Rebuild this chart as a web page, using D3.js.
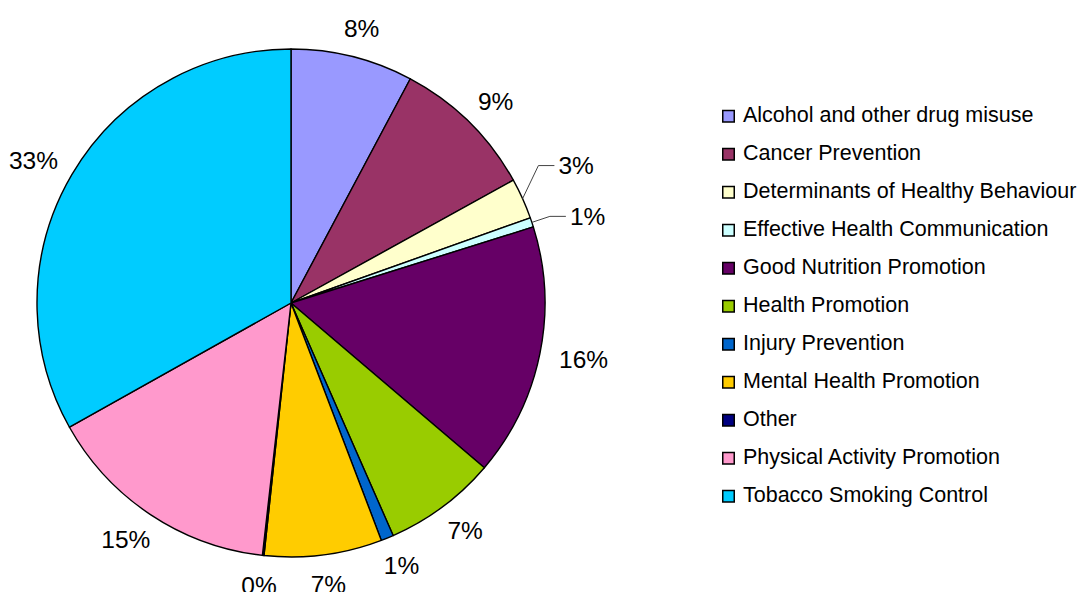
<!DOCTYPE html>
<html>
<head>
<meta charset="utf-8">
<script src="https://cdn.jsdelivr.net/npm/d3@7"></script>
<style>
  html, body { margin: 0; padding: 0; background: #fff; }
  svg { display: block; }
  text { font-family: "Liberation Sans", Arial, sans-serif; fill: #000; }
</style>
</head>
<body>
<svg id="chart" width="1077" height="592"></svg>
<script>
const categories = [
  "Alcohol and other drug misuse",
  "Cancer Prevention",
  "Determinants of Healthy Behaviour",
  "Effective Health Communication",
  "Good Nutrition Promotion",
  "Health Promotion",
  "Injury Prevention",
  "Mental Health Promotion",
  "Other",
  "Physical Activity Promotion",
  "Tobacco Smoking Control"
];
const values = [7.8, 9.2, 2.6, 0.6, 16.1, 7.2, 0.8, 7.5, 0.1, 15.1, 33.2];
const colors = ["#9999FF", "#993366", "#FFFFCC", "#CCFFFF", "#660066", "#99CC00",
                "#0066CC", "#FFCC00", "#000080", "#FF99CC", "#00CCFF"];
// slices whose labels use leader lines: [elbow radius, elbow angle shift (deg)]
const leaderSlices = { "Determinants of Healthy Behaviour": [283, -4.8], "Effective Health Communication": [273, 0] };

const svg = d3.select("#chart");
const cx = 291, cy = 303, R = 254;
const total = d3.sum(values);
const data = categories.map((c, i) => ({ name: c, value: values[i], color: colors[i] }));

const pie = d3.pie().value(d => d.value).sort(null);
const arcs = pie(data);
const arc = d3.arc().innerRadius(0).outerRadius(R);

const g = svg.append("g").attr("transform", `translate(${cx},${cy})`);
g.selectAll("path.slice").data(arcs).join("path")
  .attr("class", "slice")
  .attr("d", arc)
  .attr("fill", d => d.data.color)
  .attr("stroke", "#000")
  .attr("stroke-width", 1.4)
  .attr("stroke-linejoin", "round");

const fmt = v => Math.round(v / total * 100) + "%";
const labelFont = 24.5;
const pt = (r, a) => [r * Math.sin(a), -r * Math.cos(a)];

arcs.forEach(d => {
  const a = (d.startAngle + d.endAngle) / 2;
  const txt = fmt(d.data.value);
  const lead = leaderSlices[d.data.name];
  if (lead) {
    const p0 = pt(R, a);
    const p1 = pt(lead[0], a + lead[1] * Math.PI / 180);
    const p2 = [p1[0] + 16, p1[1]];
    g.append("polyline")
      .attr("points", [p0, p1, p2].map(p => p.join(",")).join(" "))
      .attr("fill", "none").attr("stroke", "#444").attr("stroke-width", 1);
    g.append("text")
      .attr("x", p2[0] + 4).attr("y", p2[1])
      .attr("dy", "0.36em")
      .attr("text-anchor", "start")
      .attr("font-size", labelFont)
      .text(txt);
  } else {
    const t = g.append("text")
      .attr("font-size", labelFont)
      .attr("text-anchor", "middle")
      .attr("dy", "0.36em")
      .text(txt);
    const bb = t.node().getBBox();
    const w = bb.width, h = 19;
    const p = pt(274, a);
    t.attr("x", p[0] + Math.sin(a) * w / 2)
     .attr("y", p[1] - Math.cos(a) * h / 2);
  }
});

// legend
const lg = svg.append("g").attr("transform", "translate(722,0)");
const rowY = d3.scalePoint().domain(categories).range([116, 496]);
const rows = lg.selectAll("g.row").data(data).join("g")
  .attr("class", "row")
  .attr("transform", d => `translate(0,${rowY(d.name)})`);
rows.append("rect")
  .attr("x", 0.75).attr("y", -5.5).attr("width", 11.5).attr("height", 11.5)
  .attr("fill", d => d.color).attr("stroke", "#000").attr("stroke-width", 1.5);
rows.append("text")
  .attr("x", 21).attr("y", 6.3)
  .attr("font-size", 21.5)
  .text(d => d.name);
</script>
</body>
</html>
